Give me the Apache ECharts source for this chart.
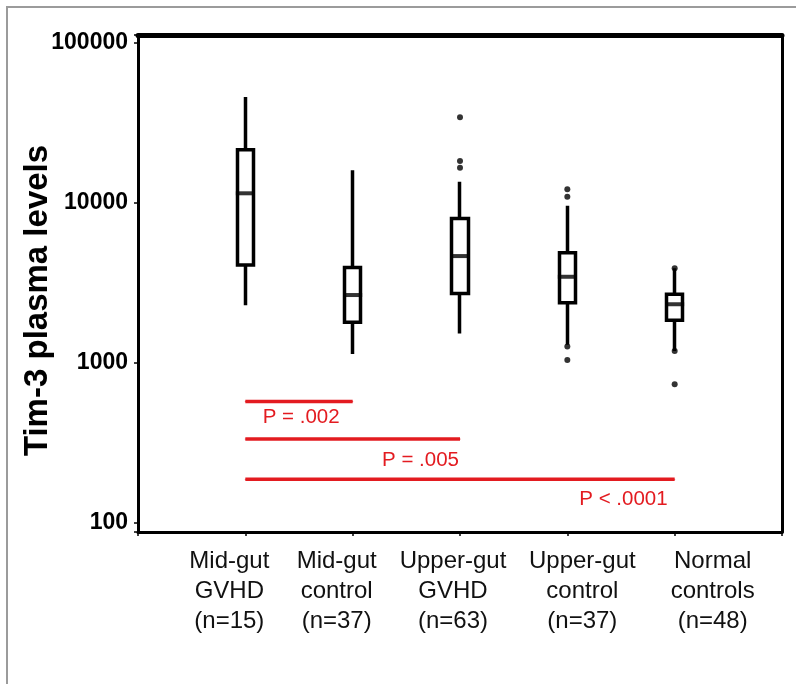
<!doctype html>
<html lang="en">

<head>
	<meta charset="UTF-8">
	<title>Tim-3 plasma levels</title>
	<style>
		html, body { margin: 0; padding: 0; background: #fff; }
		#wrap { position: relative; width: 796px; height: 684px; }
		#frame { position: absolute; left: 6px; top: 6px; right: 0; bottom: 0; border-top: 2px solid #9b9b9b; border-left: 2px solid #9b9b9b; }
		#main { position: absolute; left: 0; top: 0; width: 796px; height: 684px; }
	</style>
</head>

<body>
	<div id="wrap">
		<div id="frame"></div>
		<div id="main"></div>
	</div>

	<script src="https://cdn.jsdelivr.net/npm/echarts@6/dist/echarts.min.js"></script>
	<script>
		// groups on the x axis
		var groups = ['Mid-gut\nGVHD\n(n=15)', 'Mid-gut\ncontrol\n(n=37)', 'Upper-gut\nGVHD\n(n=63)', 'Upper-gut\ncontrol\n(n=37)', 'Normal\ncontrols\n(n=48)'];
		// the labels are not quite centred under the boxes in the original
		var labelShift = [-16, -16, -7, 15, 38];

		// box stats per group
		var whiskerLow = [2300, 1140, 1530, 1300, 1190];
		var q1 = [4100, 1800, 2720, 2380, 1850];
		var median = [11500, 2660, 4660, 3460, 2330];
		var q3 = [21500, 3950, 8000, 4890, 2690];
		var whiskerHigh = [46000, 16000, 13600, 9600, 3910];

		// outliers: [group index, value]
		var outliers = [
			[2, 34400], [2, 18300], [2, 16600],
			[3, 12200], [3, 10950], [3, 1270], [3, 1045],
			[4, 3910], [4, 1190], [4, 736]
		];

		// p-value bars: from group, to group, level, text
		var pFrom = [0, 0, 0];
		var pTo = [1, 2, 4];
		var pLevel = [575, 335, 188];
		var pText = ['P = .002', 'P = .005', 'P < .0001'];
		var pOffset = [[-13, 0], [-1, 5], [-7, 4]];

		var yTicks = [100, 1000, 10000, 100000];

		// one empty slot on each side of the groups
		var cats = [' '].concat(groups, ['  ']);

		var red = '#e31b20';
		var font = '"Liberation Sans", Arial, Helvetica, sans-serif';

		var candleData = cats.map(function (c, i) {
			var k = i - 1;
			if (k < 0 || k >= groups.length) return '-';
			return [q1[k], q3[k], whiskerLow[k], whiskerHigh[k]];
		});

		var medianData = median.map(function (v, k) { return [k + 1, v]; });
		var outlierData = outliers.map(function (o) { return [o[0] + 1, o[1]]; });

		// rich styles to nudge each category label sideways
		var rich = {};
		labelShift.forEach(function (d, k) {
			rich['g' + k] = {
				fontSize: 24,
				lineHeight: 30,
				color: '#111',
				fontFamily: font,
				padding: d < 0 ? [0, -2 * d, 0, 0] : [0, 0, 0, 2 * d]
			};
		});

		var pSeries = pText.map(function (t, i) {
			return {
				type: 'line',
				silent: true,
				symbol: 'circle',
				symbolSize: 1,
				itemStyle: { color: red },
				lineStyle: { color: red, width: 3.5 },
				z: 5,
				data: [
					[pFrom[i] + 1, pLevel[i]],
					{
						value: [pTo[i] + 1, pLevel[i]],
						label: {
							show: true,
							formatter: t,
							position: 'bottom',
							align: 'right',
							offset: pOffset[i],
							color: red,
							fontSize: 20.5,
							fontFamily: font
						}
					}
				]
			};
		});

		var chart = echarts.init(document.getElementById('main'));

		var option = {
			animation: false,
			grid: { left: 138, right: 14, top: 35, bottom: 152, containLabel: false },
			xAxis: [
				{
					type: 'category',
					data: cats,
					boundaryGap: false,
					axisLine: { lineStyle: { color: '#000', width: 3 } },
					axisTick: { show: true, length: 4, lineStyle: { color: '#000', width: 1.5 } },
					axisLabel: {
						interval: 0,
						margin: 14,
						color: '#111',
						fontSize: 24,
						lineHeight: 30,
						fontFamily: font,
						formatter: function (v, i) {
							var k = i - 1;
							if (k < 0 || k >= groups.length) return '';
							return v.split('\n').map(function (s) { return '{g' + k + '|' + s + '}'; }).join('\n');
						},
						rich: rich
					},
					splitLine: { show: false }
				},
				{
					type: 'category',
					data: cats,
					position: 'top',
					boundaryGap: false,
					axisLine: { lineStyle: { color: '#000', width: 5 } },
					axisTick: { show: false },
					axisLabel: { show: false }
				}
			],
			yAxis: [
				{
					type: 'log',
					logBase: 10,
					min: 87.9,
					max: 112200,
					name: 'Tim-3 plasma levels',
					nameLocation: 'middle',
					nameRotate: 90,
					nameGap: 84,
					nameMoveOverlap: false,
					nameTextStyle: {
						color: '#000',
						fontSize: 33,
						fontWeight: 'bold',
						fontFamily: font,
						padding: [0, 34, 0, 0]
					},
					axisLine: { show: true, lineStyle: { color: '#000', width: 3 } },
					axisTick: { show: true, length: 4, lineStyle: { color: '#000', width: 1.5 } },
					axisLabel: {
						margin: 10,
						color: '#000',
						fontSize: 23,
						fontWeight: 'bold',
						fontFamily: font,
						formatter: function (v) {
							var r = Math.round(v);
							return yTicks.indexOf(r) >= 0 ? String(r) : '';
						}
					},
					splitLine: { show: false }
				},
				{
					type: 'log',
					min: 87.9,
					max: 112200,
					position: 'right',
					axisLine: { show: true, lineStyle: { color: '#000', width: 3 } },
					axisTick: { show: false },
					axisLabel: { show: false },
					splitLine: { show: false }
				}
			],
			series: [
				{
					type: 'candlestick',
					data: candleData,
					barWidth: 17,
					itemStyle: {
						color: '#fff',
						color0: '#fff',
						borderColor: '#000',
						borderColor0: '#000',
						borderWidth: 3.5
					},
					z: 3
				},
				{
					type: 'scatter',
					data: medianData,
					symbol: 'rect',
					symbolSize: [19, 4],
					itemStyle: { color: '#000' },
					z: 4
				},
				{
					type: 'scatter',
					data: outlierData,
					symbol: 'circle',
					symbolSize: 6,
					itemStyle: { color: '#000' },
					z: 4
				}
			].concat(pSeries)
		};

		chart.setOption(option);
	</script>
</body>

</html>
